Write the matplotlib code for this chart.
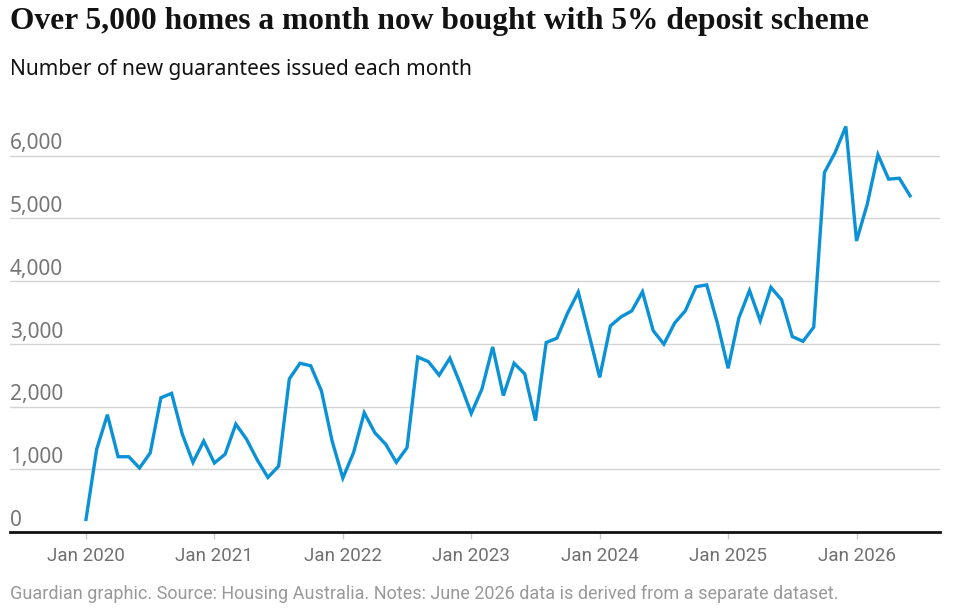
import matplotlib.pyplot as plt
import numpy as np

# monthly new guarantees, Jan 2020 .. Jun 2026
guarantees = [
    200, 1320, 1870, 1200, 1200, 1020, 1260, 2140, 2210, 1560, 1110, 1450,
    1100, 1240, 1720, 1480, 1150, 870, 1050, 2440, 2690, 2650, 2250, 1450,
    860, 1265, 1900, 1580, 1400, 1110, 1345, 2790, 2715, 2500, 2770, 2350,
    1890, 2280, 2950, 2175, 2690, 2520, 1775, 3020, 3090, 3490, 3825, 3150,
    2465, 3285, 3430, 3525, 3830, 3210, 2995, 3330, 3525, 3910, 3940, 3330,
    2610, 3410, 3850, 3370, 3900, 3700, 3115, 3040, 3265, 5730, 6050, 6465,
    4640, 5225, 6015, 5625, 5640, 5360,
]
month_idx = np.arange(len(guarantees))

year_ticks = [0, 12, 24, 36, 48, 60, 72]
year_labels = ["Jan 2020", "Jan 2021", "Jan 2022", "Jan 2023",
               "Jan 2024", "Jan 2025", "Jan 2026"]
y_ticks = [0, 1000, 2000, 3000, 4000, 5000, 6000]
y_labels = ["0", "1,000", "2,000", "3,000", "4,000", "5,000", "6,000"]

W, H = 957, 610
fig = plt.figure(figsize=(W / 100, H / 100), dpi=100)
ax = fig.add_axes([10 / W, 1 - 532 / H, 930 / W, (532 - 118) / H])

ax.set_xlim(-7.1, 79.8)
ax.set_ylim(0, 6600)

for v, lab in zip(y_ticks, y_labels):
    if v > 0:
        ax.axhline(v, color="#d4d4d4", lw=1, zorder=1)
    ax.text(0, v + 20, lab, transform=ax.get_yaxis_transform(),
            ha="left", va="bottom", fontsize=15, color="#767676",
            family="Noto Sans")

ax.plot(month_idx, guarantees, color="#0a91d6", lw=2.4, zorder=3,
        solid_joinstyle="miter")

for s in ["top", "right", "left"]:
    ax.spines[s].set_visible(False)
ax.spines["bottom"].set_color("#121212")
ax.spines["bottom"].set_linewidth(2)

ax.set_yticks([])
ax.set_xticks(year_ticks)
ax.set_xticklabels(year_labels, fontsize=13.5, color="#707070",
                   family="Roboto", fontstretch="condensed")
ax.tick_params(axis="x", length=5, width=1, color="#c8c8c8", pad=6)

fig.text(10 / W, 1 - 22 / H, "Over 5,000 homes a month now bought with 5% deposit scheme",
         fontsize=22.7, fontweight="bold", family="Liberation Serif",
         color="#121212", va="center", ha="left")
fig.text(10 / W, 1 - 69 / H, "Number of new guarantees issued each month",
         fontsize=15, family="Noto Sans", color="#121212",
         va="center", ha="left")
fig.text(10 / W, 1 - 594 / H,
         "Guardian graphic. Source: Housing Australia. Notes: June 2026 data is derived from a separate dataset.",
         fontsize=13, family="Roboto", color="#999999", va="center", ha="left")

fig.savefig("out.png", dpi=100)
